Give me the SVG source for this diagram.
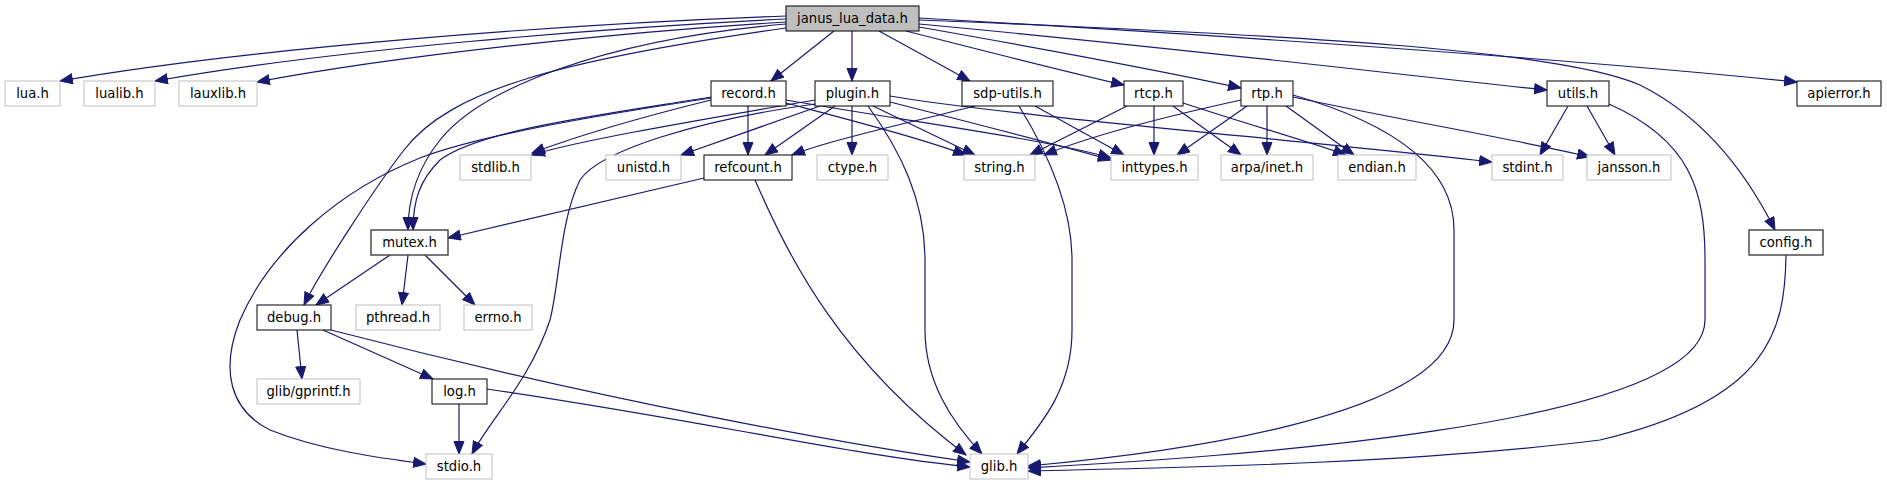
<svg xmlns="http://www.w3.org/2000/svg" width="1887" height="485" viewBox="0 0 1887 485">
<style>
.n rect{fill:#fff;stroke:#000;stroke-width:1}
.n.g rect{stroke:#bfbfbf}
.n.d rect{stroke:#404040;stroke-width:1.4}
.n.r rect{fill:#bfbfbf}
.n text{font-family:"DejaVu Sans","Liberation Sans",sans-serif;font-size:13.2px;fill:#000;text-anchor:middle}
.e path{fill:none;stroke:#191970;stroke-width:1.2}
</style>
<defs>
<marker id="a" markerUnits="userSpaceOnUse" markerWidth="15" markerHeight="12" refX="13" refY="5.5" orient="auto">
<path d="M0.5,0.5 L13,5.5 L0.5,10.5 z" fill="#191970" stroke="#191970" stroke-width="1"/>
</marker>
</defs>
<rect width="1887" height="485" fill="#fff"/>
<g class="e" marker-end="url(#a)">
<path d="M786,16 C560,24 250,48 60,81"/>
<path d="M786,19 C600,28 330,50 155,81"/>
<path d="M786,22 C620,32 400,55 257,82"/>
<path d="M786,28 C560,60 450,90 404,150 C376,186 320,272 304,305"/>
<path d="M786,24 C600,40 480,90 440,140 C420,165 408,195 408,230"/>
<path d="M834,31 L771,81"/>
<path d="M852,31 L852,81"/>
<path d="M879,31 L970,81"/>
<path d="M906,31 C1000,55 1080,75 1124,85"/>
<path d="M919,27 C1050,50 1180,75 1241,88"/>
<path d="M919,24 C1200,50 1400,75 1547,90"/>
<path d="M919,18 C1300,40 1600,62 1797,82"/>
<path d="M919,20 C1300,35 1560,50 1640,85 C1710,120 1750,180 1775,230"/>
<path d="M748,106 L748,155"/>
<path d="M711,100 C650,115 580,135 532,153"/>
<path d="M711,97 C600,115 480,130 440,160 C420,180 413,200 413,230"/>
<path d="M711,98 C600,115 480,135 420,158 C340,190 270,250 240,320 C220,370 230,410 270,430 C320,450 380,458 426,464"/>
<path d="M786,103 C850,120 920,138 966,155"/>
<path d="M786,100 C900,120 1050,140 1111,158"/>
<path d="M815,100 C700,120 580,140 532,155"/>
<path d="M820,106 L681,155"/>
<path d="M835,106 L765,155"/>
<path d="M852,106 L852,155"/>
<path d="M873,106 L975,155"/>
<path d="M890,102 C980,125 1060,145 1111,160"/>
<path d="M890,96 C1000,115 1300,140 1492,162"/>
<path d="M868,106 C900,150 925,200 925,260 L925,330 C925,380 950,420 982,454"/>
<path d="M815,104 C700,120 600,150 580,180 C560,220 560,280 550,320 C530,380 490,420 472,454"/>
<path d="M975,106 C900,125 830,140 792,155"/>
<path d="M1035,106 L1124,155"/>
<path d="M1019,106 C1040,140 1072,200 1072,260 L1072,330 C1072,390 1040,425 1017,454"/>
<path d="M1127,106 L1030,155"/>
<path d="M1154,106 L1154,155"/>
<path d="M1173,106 L1241,155"/>
<path d="M1183,103 C1250,125 1310,142 1346,155"/>
<path d="M1241,100 C1150,120 1080,140 1044,155"/>
<path d="M1247,106 L1177,155"/>
<path d="M1267,106 L1267,155"/>
<path d="M1286,106 L1354,155"/>
<path d="M1293,97 C1400,120 1520,140 1590,157"/>
<path d="M1293,95 C1380,120 1454,160 1454,230 L1454,320 C1454,420 1150,455 1028,466"/>
<path d="M1568,106 L1540,155"/>
<path d="M1587,106 L1615,155"/>
<path d="M1609,104 C1690,140 1705,190 1705,260 L1705,320 C1705,430 1200,458 1028,468"/>
<path d="M1786,255 C1785,330 1770,400 1600,440 C1400,465 1150,468 1028,471"/>
<path d="M704,178 L448,238"/>
<path d="M755,180 C790,260 840,360 966,455"/>
<path d="M390,255 L316,305"/>
<path d="M408,255 L402,305"/>
<path d="M425,255 L475,305"/>
<path d="M297,330 L302,379"/>
<path d="M323,330 L433,379"/>
<path d="M331,330 C600,400 850,445 970,462"/>
<path d="M459,404 L459,454"/>
<path d="M487,389 C700,420 850,455 970,467"/>
</g>
<g id="janus_lua_data" class="n r"><rect x="786" y="6" width="133" height="25"/><text x="852.5" y="23">janus_lua_data.h</text></g>
<g id="lua" class="n g"><rect x="5" y="81" width="55" height="25"/><text x="32.5" y="98">lua.h</text></g>
<g id="lualib" class="n g"><rect x="84" y="81" width="71" height="25"/><text x="119.5" y="98">lualib.h</text></g>
<g id="lauxlib" class="n g"><rect x="179" y="81" width="78" height="25"/><text x="218" y="98">lauxlib.h</text></g>
<g id="record" class="n"><rect x="711" y="81" width="75" height="25"/><text x="748.5" y="98">record.h</text></g>
<g id="plugin" class="n"><rect x="815" y="81" width="75" height="25"/><text x="852.5" y="98">plugin.h</text></g>
<g id="sdp_utils" class="n"><rect x="962" y="81" width="91" height="25"/><text x="1007.5" y="98">sdp-utils.h</text></g>
<g id="rtcp" class="n"><rect x="1124" y="81" width="59" height="25"/><text x="1153.5" y="98">rtcp.h</text></g>
<g id="rtp" class="n"><rect x="1241" y="81" width="52" height="25"/><text x="1267" y="98">rtp.h</text></g>
<g id="utils" class="n"><rect x="1547" y="81" width="62" height="25"/><text x="1578" y="98">utils.h</text></g>
<g id="apierror" class="n"><rect x="1797" y="81" width="84" height="25"/><text x="1839" y="98">apierror.h</text></g>
<g id="stdlib" class="n g"><rect x="460" y="155" width="71" height="25"/><text x="495.5" y="172">stdlib.h</text></g>
<g id="unistd" class="n g"><rect x="606" y="155" width="75" height="25"/><text x="643.5" y="172">unistd.h</text></g>
<g id="refcount" class="n"><rect x="704" y="155" width="88" height="25"/><text x="748" y="172">refcount.h</text></g>
<g id="ctype" class="n g"><rect x="817" y="155" width="71" height="25"/><text x="852.5" y="172">ctype.h</text></g>
<g id="string" class="n g"><rect x="964" y="155" width="71" height="25"/><text x="999.5" y="172">string.h</text></g>
<g id="inttypes" class="n g"><rect x="1111" y="155" width="87" height="25"/><text x="1154.5" y="172">inttypes.h</text></g>
<g id="arpa_inet" class="n g"><rect x="1221" y="155" width="92" height="25"/><text x="1267" y="172">arpa/inet.h</text></g>
<g id="endian" class="n g"><rect x="1338" y="155" width="78" height="25"/><text x="1377" y="172">endian.h</text></g>
<g id="stdint" class="n g"><rect x="1492" y="155" width="71" height="25"/><text x="1527.5" y="172">stdint.h</text></g>
<g id="jansson" class="n g"><rect x="1587" y="155" width="84" height="25"/><text x="1629" y="172">jansson.h</text></g>
<g id="mutex" class="n d"><rect x="371" y="230" width="77" height="25"/><text x="409.5" y="247">mutex.h</text></g>
<g id="config" class="n d"><rect x="1749" y="230" width="74" height="25"/><text x="1786" y="247">config.h</text></g>
<g id="debug" class="n"><rect x="257" y="305" width="74" height="25"/><text x="294" y="322">debug.h</text></g>
<g id="pthread" class="n g"><rect x="356" y="305" width="84" height="25"/><text x="398" y="322">pthread.h</text></g>
<g id="errno" class="n g"><rect x="464" y="305" width="68" height="25"/><text x="498" y="322">errno.h</text></g>
<g id="gprintf" class="n g"><rect x="257" y="379" width="103" height="25"/><text x="308.5" y="396">glib/gprintf.h</text></g>
<g id="log" class="n"><rect x="432" y="379" width="55" height="25"/><text x="459.5" y="396">log.h</text></g>
<g id="stdio" class="n g"><rect x="426" y="454" width="66" height="25"/><text x="459" y="471">stdio.h</text></g>
<g id="glib" class="n g"><rect x="970" y="454" width="58" height="25"/><text x="999" y="471">glib.h</text></g>
</svg>
